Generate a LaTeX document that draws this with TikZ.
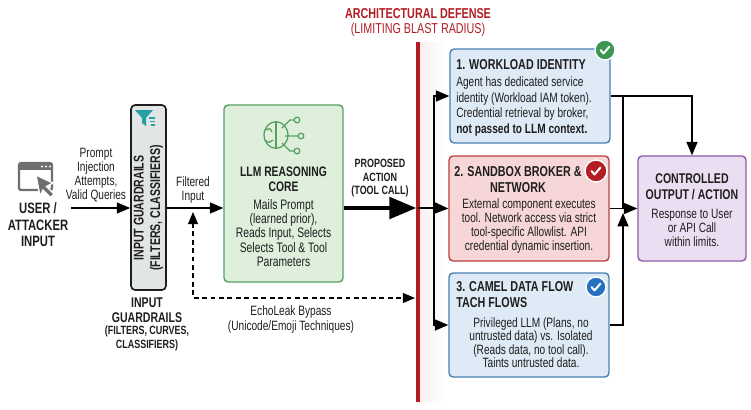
\documentclass[tikz,border=0pt]{standalone}
\usepackage{fontspec}
\setmainfont{Liberation Sans}[FakeStretch=0.75]
\usetikzlibrary{arrows}
\usetikzlibrary{shapes}
\usetikzlibrary{backgrounds,positioning}
\usepackage{xcolor}
\definecolor{defred}{RGB}{178,28,34}
\definecolor{ink}{RGB}{30,30,30}
\definecolor{idfill}{RGB}{222,234,246}
\definecolor{idline}{RGB}{72,128,178}
\definecolor{sbfill}{RGB}{246,214,214}
\definecolor{sbline}{RGB}{192,62,62}
\definecolor{llmfill}{RGB}{222,240,220}
\definecolor{llmline}{RGB}{88,160,98}
\definecolor{outfill}{RGB}{236,222,242}
\definecolor{outln}{RGB}{140,92,166}
\definecolor{grdfill}{RGB}{226,229,229}
\definecolor{funnel}{RGB}{38,160,160}
\definecolor{icongray}{RGB}{110,110,110}
\definecolor{okgreen}{RGB}{58,150,82}
\definecolor{okblue}{RGB}{38,112,192}
\providecommand{\bodysize}{\fontsize{9.6}{10}\selectfont}
\providecommand{\headsize}{\fontsize{10.2}{11}\selectfont\bfseries}

\tikzset{
  box/.style={draw, rounded corners=3pt, line width=1pt, inner sep=0pt},
  idbox/.style={box, draw=idline, fill=idfill},
  sbbox/.style={box, draw=sbline, fill=sbfill},
  llmbox/.style={box, draw=llmline, fill=llmfill},
  outbox/.style={box, draw=outln, fill=outfill},
  grdbox/.style={box, draw=ink, fill=grdfill},
  headtext/.style={font=\headsize, text=ink, align=center, inner sep=0pt},
  bodytext/.style={font=\bodysize, text=ink, align=center, inner sep=0pt},
  badge/.style={circle, draw=white, line width=1pt, minimum size=0.5cm, inner sep=0pt},
  checkmark/.style={white, line width=1.4pt, line cap=round, line join=round},
  flow/.style={->, line width=1.2pt, >=triangle 45},
  bigflow/.style={->, line width=3.5pt, >=triangle 45},
  dashflow/.style={<->, line width=1pt, dash pattern=on 3.5pt off 2.5pt, >=triangle 45}
}

\begin{document}
\begin{tikzpicture}[x=0.025cm, y=-0.025cm]
  \useasboundingbox (0,0) rectangle (751,409);

  % defense wall
  \shade[left color=defred!7, right color=white] (419,42) rectangle (446,402);
  \node[font=\fontsize{10.2}{11}\selectfont\bfseries, text=defred] (deftitle) at (418,14) {ARCHITECTURAL DEFENSE};
  \node[font=\fontsize{10.2}{11}\selectfont, text=defred] (defsub) at (418,30) {(LIMITING BLAST RADIUS)};
  \coordinate (walltop) at (418,42);
  \coordinate (wallbot) at (418,402);
  \draw[defred, line width=2.2pt] (walltop) -- (wallbot);

  % user / attacker
  \draw[icongray, line width=1.6pt, rounded corners=1.5pt] (19,163) rectangle (52,190);
  \fill[icongray] (19,163) rectangle (52,170);
  \fill[white] (42,166.5) circle (0.8pt) (46,166.5) circle (0.8pt) (50,166.5) circle (0.8pt);
  \filldraw[fill=icongray, draw=white, line width=1pt] (36,175) -- (53,183) -- (46.5,186.5) -- (54,194) -- (50.5,197.5) -- (43,190) -- (40,196.5) -- cycle;
  \node[font=\fontsize{10.7}{11.8}\selectfont\bfseries, text=ink, align=center] (user) at (38,225) {USER /\\ATTACKER\\INPUT};
  \node[bodytext, font=\fontsize{9.6}{9.8}\selectfont] (promptlbl) at (96,175) {Prompt\\Injection\\Attempts,\\Valid Queries};

  % guardrails
  \node[grdbox, line width=1.2pt, minimum width=0.875cm, minimum height=4.625cm] (guard) at (148.5,197.5) {};
  \fill[funnel] (135,110) -- (153,110) -- (146,118) -- (146,126) -- (142,123) -- (142,118) -- cycle;
  \draw[funnel, line width=1pt] (149,118) -- (155,118) (150,121.5) -- (155,121.5) (151,125) -- (155,125);
  \node[headtext, font=\fontsize{10}{11.8}\selectfont\bfseries, rotate=90] (guardlab) at (148.5,208) {INPUT GUARDRAILS\\(FILTERS, CLASSIFIERS)};
  \node[headtext, font=\fontsize{10}{10.5}\selectfont\bfseries] (guardname) at (147,310.5) {INPUT\\GUARDRAILS};
  \node[headtext, font=\fontsize{8.5}{9.5}\selectfont\bfseries] (guardsub) at (147,338.5) {(FILTERS, CURVES,\\CLASSIFIERS)};
  \node[bodytext] (filtlbl) at (193,190) {Filtered\\Input};

  % reasoning core
  \node[llmbox, minimum width=2.975cm, minimum height=4.425cm] (llm) at (283.5,193.5) {};
  \begin{scope}[llmline, line width=0.9pt]
    \draw (276,135) ellipse [x radius=8.5pt, y radius=9.5pt];
    \draw (276,122) -- (276,148);
    \draw (266,130) .. controls (270,128) .. (272,132) (265,140) .. controls (269,143) .. (273,140);
    \draw (282,128) -- (290,120) -- (294,120) (285,136) -- (298,136) (282,143) -- (290,151) -- (294,151);
    \filldraw[fill=llmfill] (297,120) circle (2pt) (301,136) circle (2pt) (297,151) circle (2pt);
  \end{scope}
  \node[headtext, font=\fontsize{9.8}{10.8}\selectfont\bfseries] (llmhead) at (283.5,179.5) {LLM REASONING\\CORE};
  \node[bodytext, font=\fontsize{9.8}{10.1}\selectfont] (llmbody) at (283.5,233) {Mails Prompt\\(learned prior),\\Reads Input, Selects\\Selects Tool \& Tool\\Parameters};
  \node[headtext, font=\fontsize{8.5}{9.6}\selectfont\bfseries] (actlbl) at (380,178.5) {PROPOSED\\ACTION\\(TOOL CALL)};

  % defense layers
  \node[idbox, minimum width=4cm, minimum height=2.35cm] (ident) at (530,96) {};
  \node[headtext, anchor=west] (identhead) at (456,65) {1. WORKLOAD IDENTITY};
  \node[bodytext, font=\fontsize{9.6}{11.1}\selectfont, align=left, anchor=west] (identbody) at (456,106.5) {Agent has dedicated service\\identity (Workload IAM token).\\Credential retrieval by broker,\\\textbf{not passed to LLM context.}};
  \node[badge, fill=okgreen] (identok) at (605,50) {};
  \draw[checkmark] (identok.center) ++(-4.5,0) -- ++(3,3.5) -- ++(6,-7);

  \node[sbbox, minimum width=4cm, minimum height=2.625cm] (sandbox) at (529,208.5) {};
  \node[headtext] (sandhead) at (518,179.5) {2. SANDBOX BROKER \&\\NETWORK};
  \node[bodytext] (sandbody) at (529,226) {External component executes\\tool. Network access via strict\\tool-specific Allowlist. API\\credential dynamic insertion.};
  \node[badge, fill=defred, minimum size=0.55cm] (sandok) at (596,171) {};
  \draw[checkmark] (sandok.center) ++(-4.5,0) -- ++(3,3.5) -- ++(6,-7);

  \node[idbox, minimum width=4cm, minimum height=2.6cm] (camel) at (529,325) {};
  \node[headtext, align=left, anchor=west] (camelhead) at (456,294.5) {3. CAMEL DATA FLOW\\TACH FLOWS};
  \node[bodytext, font=\fontsize{9.6}{9.5}\selectfont] (camelbody) at (531,342.5) {Privileged LLM (Plans, no\\untrusted data) vs. Isolated\\(Reads data, no tool call).\\Taints untrusted data.};
  \node[badge, fill=okblue] (camelok) at (596,287) {};
  \draw[checkmark] (camelok.center) ++(-4.5,0) -- ++(3,3.5) -- ++(6,-7);

  % output
  \node[outbox, minimum width=2.7cm, minimum height=2.625cm] (output) at (692,208.5) {};
  \node[headtext, font=\fontsize{10}{11}\selectfont\bfseries] (outhead) at (692,186.5) {CONTROLLED\\OUTPUT / ACTION};
  \node[bodytext] (outbody) at (692,227.5) {Response to User\\or API Call\\within limits.};
  \node[bodytext, font=\fontsize{9.6}{10.5}\selectfont] (bypasslbl) at (291,319.5) {EchoLeak Bypass\\(Unicode/Emoji Techniques)};

  % connectors
  \coordinate (usrout) at (71,208);
  \coordinate (bypup) at (193,212);
  \coordinate (bypend) at (415,298);
  \coordinate (wallhit) at (416,208);
  \coordinate (split) at (434,208);
  \coordinate (merge) at (623,208);
  \coordinate (mergelow) at (623,213);

  \draw[flow] (usrout) -- (usrout -| guard.west);
  \draw[flow] (guard.east |- usrout) -- (llm.west |- usrout);
  \draw[dashflow] (bypup) |- (bypend);
  \draw[bigflow] (llm.east |- usrout) -- (wallhit);
  \draw[line width=1.8pt] (walltop |- split) -- (split);
  \draw[flow] (split) |- (ident.west);
  \draw[flow] (split) -- (sandbox.west);
  \draw[flow] (split) |- (camel.west);
  \draw[flow] (ident.east) -| (output.north);
  \draw[line width=1.2pt] (merge |- ident.east) -- (merge);
  \draw[flow] (sandbox.east) -- (output.west);
  \draw[flow] (camel.east) -| (mergelow);
\end{tikzpicture}
\end{document}
